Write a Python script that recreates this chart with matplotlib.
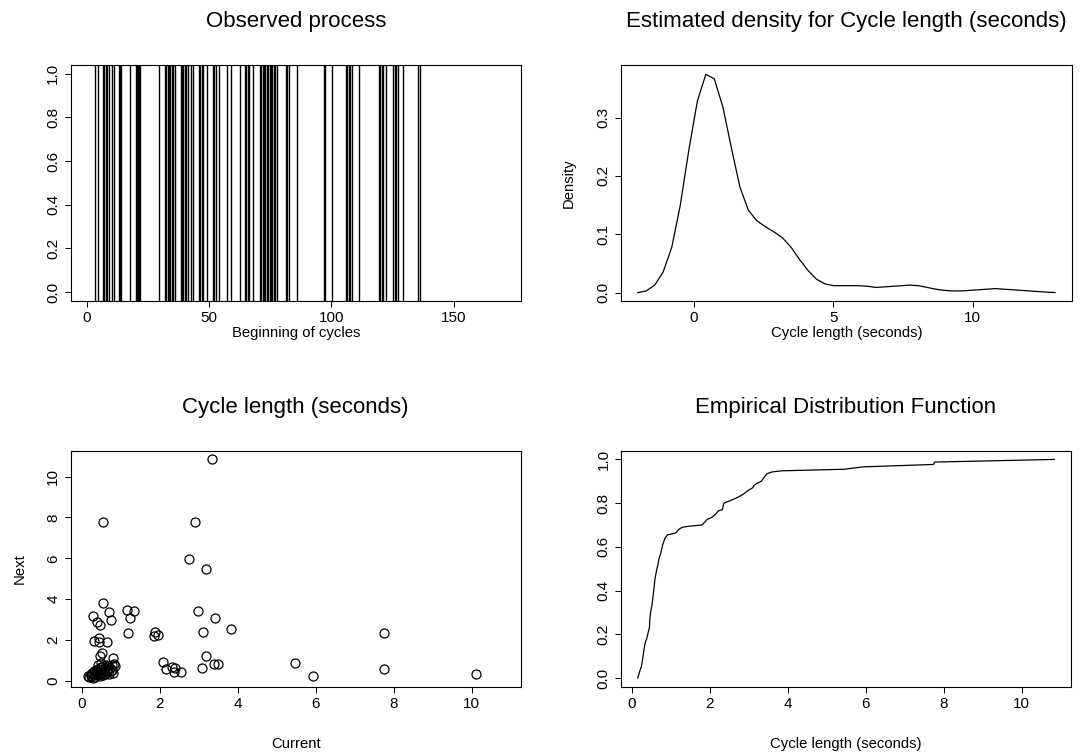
import numpy as np
import matplotlib
matplotlib.use('Agg')
import matplotlib.pyplot as plt

plt.rcParams['font.family'] = ['Liberation Sans', 'DejaVu Sans']

# Beginning of each cycle (seconds)
cycle_starts = [3.4, 4.5, 6.8, 7.3, 7.8, 8.4, 9.0, 10.2, 11.3, 13.2, 13.7, 14.0,
                17.7, 20.0, 20.5, 21.0, 21.5, 21.8, 29.7, 32.1, 32.6, 33.2, 33.7,
                34.2, 34.8, 35.3, 36.1, 38.4, 38.9, 39.5, 40.1, 40.6, 41.4, 42.5,
                43.6, 45.9, 46.5, 47.0, 47.4, 49.2, 51.7, 52.2, 52.8, 54.3, 57.4,
                59.2, 62.5, 64.8, 65.3, 65.8, 66.4, 68.2, 70.9, 71.4, 72.0, 72.5,
                73.1, 73.6, 74.2, 74.8, 75.3, 75.9, 76.5, 77.1, 77.7, 81.4, 81.9,
                82.7, 86.1, 96.9, 97.3, 100.4, 106.1, 106.6, 107.2, 107.8, 108.4,
                111.5, 119.4, 120.0, 120.6, 121.0, 122.5, 125.3, 125.9, 126.5,
                127.1, 129.4, 135.6, 136.1]

# Kernel density estimate of cycle length
density_x = np.linspace(-2.02, 12.95, 50)
density_y = [0.000, 0.003, 0.013, 0.036, 0.078, 0.150, 0.244, 0.328, 0.374, 0.366,
             0.318, 0.248, 0.181, 0.141, 0.123, 0.113, 0.104, 0.094, 0.078, 0.057,
             0.038, 0.023, 0.015, 0.012, 0.012, 0.012, 0.012, 0.011, 0.009, 0.010,
             0.011, 0.012, 0.013, 0.012, 0.009, 0.006, 0.004, 0.003, 0.003, 0.004,
             0.005, 0.006, 0.007, 0.006, 0.005, 0.004, 0.003, 0.002, 0.001, 0.0003]

# Lag plot: current cycle length vs next cycle length
current = [3.35, 0.54, 2.89, 2.75, 3.18, 0.55, 0.27, 0.69, 0.74, 0.38, 0.45, 1.15,
           1.33, 1.23, 1.18, 2.97, 3.42, 3.83, 3.10, 1.88, 1.95, 1.86, 0.30, 0.43,
           0.44, 0.64, 0.51, 0.45, 0.79, 2.08, 2.16, 2.31, 2.39, 2.35, 2.54, 3.19,
           3.08, 3.38, 3.50, 7.75, 7.76, 5.46, 5.93, 10.11,
           0.16, 0.19, 0.22, 0.24, 0.26, 0.28, 0.30, 0.31, 0.33, 0.35, 0.36, 0.38,
           0.40, 0.41, 0.43, 0.45, 0.46, 0.48, 0.50, 0.52, 0.53, 0.55, 0.56, 0.58,
           0.60, 0.62, 0.63, 0.65, 0.67, 0.68, 0.70, 0.72, 0.74, 0.76, 0.78, 0.80,
           0.83, 0.86, 0.50, 0.40]
next_ = [10.85, 7.76, 7.76, 5.95, 5.48, 3.82, 3.19, 3.35, 2.98, 2.89, 2.75, 3.48,
         3.40, 3.06, 2.35, 3.42, 3.09, 2.53, 2.40, 2.38, 2.23, 2.17, 1.96, 2.09,
         1.88, 1.88, 1.34, 1.21, 1.13, 0.93, 0.56, 0.66, 0.61, 0.44, 0.41, 1.20,
         0.64, 0.80, 0.80, 2.32, 0.57, 0.85, 0.25, 0.33,
         0.25, 0.18, 0.35, 0.22, 0.40, 0.15, 0.30, 0.48, 0.20, 0.38, 0.55, 0.26,
         0.45, 0.60, 0.33, 0.50, 0.22, 0.68, 0.40, 0.58, 0.30, 0.72, 0.47, 0.62,
         0.35, 0.78, 0.52, 0.42, 0.70, 0.60, 0.33, 0.65, 0.48, 0.75, 0.55, 0.40,
         0.82, 0.70, 0.85, 0.75]

# Empirical distribution function of cycle length
ecdf_x = [0.15, 0.20, 0.24, 0.27, 0.31, 0.34, 0.38, 0.42, 0.45, 0.46, 0.48, 0.52,
          0.56, 0.59, 0.63, 0.67, 0.70, 0.74, 0.79, 0.85, 0.91, 1.05, 1.14, 1.20,
          1.30, 1.50, 1.80, 1.88, 1.93, 2.05, 2.15, 2.22, 2.32, 2.36, 2.50, 2.70,
          2.85, 3.00, 3.10, 3.13, 3.20, 3.32, 3.40, 3.47, 3.60, 3.85, 5.44, 5.93,
          7.74, 7.77, 10.84]
ecdf_y = [0.00, 0.03, 0.05, 0.08, 0.13, 0.16, 0.18, 0.21, 0.23, 0.27, 0.30, 0.34,
          0.40, 0.45, 0.49, 0.52, 0.55, 0.57, 0.61, 0.64, 0.655, 0.66, 0.665, 0.68,
          0.69, 0.695, 0.70, 0.715, 0.725, 0.735, 0.75, 0.765, 0.77, 0.80, 0.81,
          0.825, 0.84, 0.86, 0.87, 0.88, 0.89, 0.90, 0.92, 0.935, 0.943, 0.948,
          0.955, 0.966, 0.977, 0.988, 1.0]

W, H = 1090, 756
fig = plt.figure(figsize=(W / 100, H / 100), dpi=100)


def make_axes(left, top, right, bottom):
    return fig.add_axes([left / W, 1 - bottom / H, (right - left) / W, (bottom - top) / H])


def style(ax, xticks, yticks, yfmt):
    ax.set_xticks(xticks)
    ax.set_yticks(yticks)
    ax.set_yticklabels([yfmt.format(v) for v in yticks])
    ax.tick_params(direction='out', length=4.5, width=0.75, labelsize=11, pad=3)
    ax.tick_params(axis='y', labelrotation=90)
    for lab in ax.get_yticklabels():
        lab.set_va('center')
    for s in ax.spines.values():
        s.set_linewidth(0.8)


def title(x, y, text):
    fig.text(x / W, 1 - y / H, text, ha='center', va='center', fontsize=16)


def xlabel(ax, y, text):
    ax.set_xlabel(text, fontsize=10.7)
    bb = ax.get_position()
    ax.xaxis.set_label_coords(0.5, ((1 - y / H) - bb.y0) / bb.height)
    ax.xaxis.label.set_va('center')


def ylabel(ax, x, text):
    ax.set_ylabel(text, fontsize=10.7)
    bb = ax.get_position()
    ax.yaxis.set_label_coords((x / W - bb.x0) / bb.width, 0.5)
    ax.yaxis.label.set_va('center')
    ax.yaxis.label.set_ha('center')


# Observed process
ax1 = make_axes(70.7, 65, 520.7, 300.7)
for t in cycle_starts:
    ax1.axvline(t, color='black', lw=1.0)
ax1.set_xlim(-6.5, 177.4)
ax1.set_ylim(-0.04, 1.04)
style(ax1, [0, 50, 100, 150], [0.0, 0.2, 0.4, 0.6, 0.8, 1.0], '{:.1f}')
title(295.7, 22, 'Observed process')
xlabel(ax1, 333, 'Beginning of cycles')

# Estimated density
ax2 = make_axes(621, 65, 1071.7, 300.7)
ax2.plot(density_x, density_y, color='black', lw=0.9)
ax2.set_xlim(-2.62, 13.55)
ax2.set_ylim(-0.0137, 0.3899)
style(ax2, [0, 5, 10], [0.0, 0.1, 0.2, 0.3], '{:.1f}')
title(846, 22, 'Estimated density for Cycle length (seconds)')
xlabel(ax2, 333, 'Cycle length (seconds)')
ylabel(ax2, 569, 'Density')

# Lag plot
ax3 = make_axes(70.7, 450.7, 521, 686.7)
ax3.plot(current, next_, 'o', mfc='none', mec='black', ms=6.5, mew=0.9)
ax3.set_xlim(-0.29, 11.27)
ax3.set_ylim(-0.29, 11.27)
style(ax3, [0, 2, 4, 6, 8, 10], [0, 2, 4, 6, 8, 10], '{:d}')
title(295.7, 408, 'Cycle length (seconds)')
xlabel(ax3, 744, 'Current')
ylabel(ax3, 20, 'Next')

# Empirical distribution function
ax4 = make_axes(621, 450.7, 1071, 686.7)
ax4.plot(ecdf_x, ecdf_y, color='black', lw=0.9)
ax4.set_xlim(-0.28, 11.27)
ax4.set_ylim(-0.04, 1.04)
style(ax4, [0, 2, 4, 6, 8, 10], [0.0, 0.2, 0.4, 0.6, 0.8, 1.0], '{:.1f}')
title(846, 408, 'Empirical Distribution Function')
xlabel(ax4, 744, 'Cycle length (seconds)')

fig.savefig('out.png', dpi=100)
